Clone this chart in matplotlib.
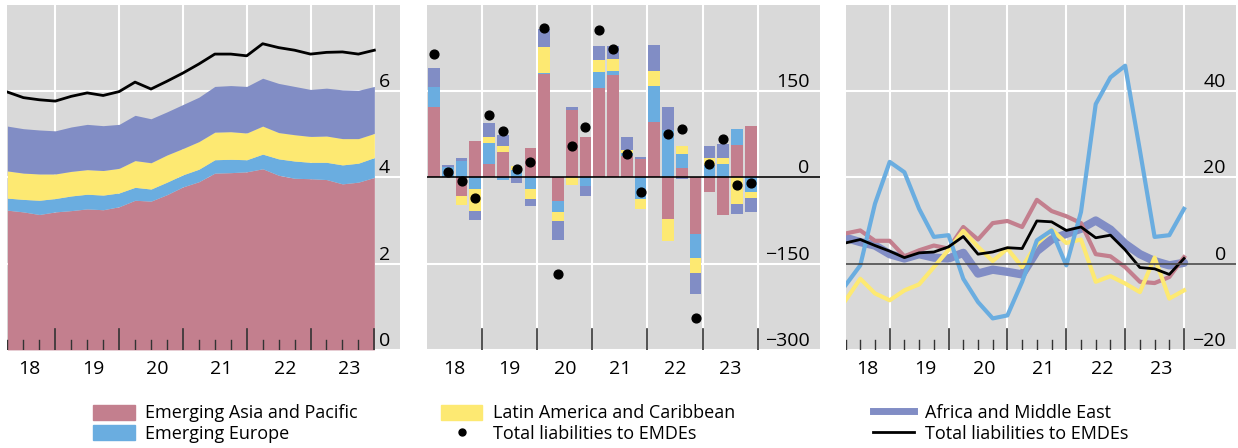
import numpy as np
import matplotlib.pyplot as plt
from matplotlib.patches import Patch
from matplotlib.lines import Line2D
from matplotlib.transforms import blended_transform_factory

plt.rcParams['font.family'] = ['Open Sans', 'DejaVu Sans']

# Panel 1: stacked levels (cumulative tops)
asia_top = [3.24, 3.20, 3.14, 3.20, 3.23, 3.27, 3.25, 3.32, 3.47, 3.45, 3.60, 3.78,
            3.90, 4.10, 4.11, 4.13, 4.20, 4.05, 3.98, 3.97, 3.95, 3.85, 3.89, 4.00]
europe_top = [3.52, 3.49, 3.47, 3.51, 3.57, 3.61, 3.59, 3.64, 3.77, 3.73, 3.89, 4.06,
              4.19, 4.41, 4.42, 4.41, 4.54, 4.43, 4.38, 4.35, 4.35, 4.29, 4.33, 4.46]
latam_top = [4.15, 4.10, 4.08, 4.08, 4.14, 4.18, 4.16, 4.21, 4.39, 4.34, 4.52, 4.67,
             4.83, 5.05, 5.06, 5.03, 5.19, 5.04, 4.99, 4.95, 4.96, 4.90, 4.90, 5.02]
africa_top = [5.19, 5.13, 5.10, 5.08, 5.17, 5.23, 5.20, 5.23, 5.44, 5.36, 5.52, 5.69,
              5.86, 6.11, 6.13, 6.11, 6.30, 6.18, 6.11, 6.04, 6.07, 6.03, 6.02, 6.11]
total_level = [5.98, 5.85, 5.80, 5.77, 5.88, 5.96, 5.90, 5.99, 6.21, 6.05, 6.23, 6.42,
               6.63, 6.86, 6.86, 6.82, 7.10, 7.01, 6.95, 6.86, 6.90, 6.91, 6.86, 6.95]

# Panel 2: quarterly changes by region
asia_chg = [123, 0, -32, 64, 24, 45, 0, 51, 179, -41, 118, 71,
            155, 178, 38, 32, 96, -72, 17, -98, -25, -65, 57, 90]
europe_chg = [34, 18, 28, -20, 36, -5, 13, -20, 2, -20, 0, -15,
              29, 7, 4, -38, 63, 82, 24, -43, 21, 24, 28, -26]
latam_chg = [0, 0, -16, -38, 11, 9, 7, -17, 45, -14, -14, 0,
             20, 21, 5, -17, 26, -39, 13, -26, 13, 10, -46, -10]
africa_chg = [33, 3, 5, -16, 23, 19, -9, -13, 32, -34, 5, -18,
              24, 22, 23, 4, 45, 41, -3, -36, 20, 24, -17, -24]
total_chg = [215, 10, -6, -35, 109, 80, 14, 26, 260, -168, 54, 88,
             257, 224, 41, -25, np.nan, 76, 84, -245, 24, 67, -13, -9]

# Panel 3: growth rates
asia_gr = [7.0, 7.7, 5.3, 5.3, 1.7, 3.1, 4.2, 3.5, 8.5, 5.6, 9.4, 9.9,
           8.5, 14.8, 12.2, 11.0, 9.4, 2.2, 1.7, -0.8, -4.2, -4.5, -3.1, 1.5]
europe_gr = [-5.0, -0.4, 13.9, 23.6, 21.2, 12.7, 6.2, 6.6, -3.5, -8.9, -12.7, -12.0,
             -4.2, 5.4, 7.7, -0.4, 12.0, 37.0, 43.2, 45.9, 26.3, 6.2, 6.6, 12.7]
latam_gr = [-8.5, -3.5, -6.9, -8.5, -6.2, -4.8, -0.8, 3.2, 7.6, 3.9, 0.6, 3.5,
            -0.8, 4.6, 7.9, 4.8, 5.6, -4.2, -2.9, -4.6, -6.6, 1.4, -8.1, -6.2]
africa_gr = [6.0, 5.0, 4.2, 2.2, 1.2, 2.2, 1.4, 1.2, 2.5, -2.3, -1.4, -1.9,
             -2.5, 2.9, 5.6, 6.9, 8.1, 10.0, 7.9, 4.6, 2.2, 0.6, -0.4, 0.2]
total_gr = [4.8, 5.6, 4.2, 2.9, 1.4, 2.5, 2.7, 3.9, 6.3, 2.2, 2.7, 3.7,
            3.5, 9.9, 9.7, 7.7, 8.5, 6.0, 6.6, 3.2, -0.9, -1.2, -2.5, 1.2]

year_labels = ['18', '19', '20', '21', '22', '23']

PINK, BLUE, YELLOW, PURPLE = '#c37f8e', '#6aade0', '#fde972', '#818dc5'
BG = '#d9d9d9'
FS = 13

fig = plt.figure(figsize=(12.38, 4.48), dpi=100)
ax1 = fig.add_axes([0.006, 0.219, 0.317, 0.77])
ax2 = fig.add_axes([0.345, 0.219, 0.317, 0.77])
ax3 = fig.add_axes([0.683, 0.219, 0.315, 0.77])


def style(ax, xlim, ylim, yticks, ylabels, bounds, quarters, lab_off, zero=None):
    ax.set_facecolor(BG)
    ax.set_xlim(*xlim)
    ax.set_ylim(*ylim)
    for s in ax.spines.values():
        s.set_visible(False)
    ax.set_xticks([])
    ax.set_yticks([])
    for b in bounds:
        ax.axvline(b, color='white', lw=1.5, zorder=0)
    for yv in yticks:
        ax.axhline(yv, color='white', lw=1.5, zorder=0)
    tr = blended_transform_factory(ax.transAxes, ax.transData)
    for yv, lab in zip(yticks, ylabels):
        ax.text(0.975, yv, lab, transform=tr, ha='right', va='bottom', fontsize=FS + 1)
    trx = blended_transform_factory(ax.transData, ax.transAxes)
    for b in bounds:
        ax.plot([b, b], [0, 0.06], color='#333333', lw=1.2, transform=trx, zorder=5)
    for q in quarters:
        ax.plot([q, q], [0, 0.03], color='#333333', lw=1.0, transform=trx, zorder=5)
    for i, lab in enumerate(year_labels):
        ax.text(bounds[i] - lab_off, -0.03, lab, transform=trx, ha='center', va='top',
                fontsize=FS + 1)
    if zero is not None:
        ax.axhline(0, color=zero, lw=1.2, zorder=4)


# Panel 1
x = np.arange(24)
bounds1 = [3, 7, 11, 15, 19, 23]
q1 = [i for i in x if i not in bounds1]
style(ax1, (0, 24.6), (0, 8), [0, 2, 4, 6], ['0', '2', '4', '6'], bounds1, q1, 1.6)
ax1.fill_between(x, 0, asia_top, color=PINK, lw=0, zorder=1)
ax1.fill_between(x, asia_top, europe_top, color=BLUE, lw=0, zorder=1)
ax1.fill_between(x, europe_top, latam_top, color=YELLOW, lw=0, zorder=1)
ax1.fill_between(x, latam_top, africa_top, color=PURPLE, lw=0, zorder=1)
ax1.plot(x, total_level, color='black', lw=2, zorder=3)

# Panel 2
bounds2 = [3.5, 7.5, 11.5, 15.5, 19.5, 23.5]
style(ax2, (-0.5, 28), (-300, 300), [-300, -150, 0, 150], ['\u2212300', '\u2212150', '0', '150'],
      bounds2, [], 2.0, zero='black')
pos_base = np.zeros(24)
neg_base = np.zeros(24)
for vals, col in [(asia_chg, PINK), (europe_chg, BLUE), (latam_chg, YELLOW), (africa_chg, PURPLE)]:
    v = np.array(vals, dtype=float)
    base = np.where(v >= 0, pos_base, neg_base)
    ax2.bar(x, v, bottom=base, width=0.85, color=col, lw=0, zorder=2)
    pos_base += np.where(v >= 0, v, 0)
    neg_base += np.where(v < 0, v, 0)
ax2.scatter(x, total_chg, color='black', s=40, zorder=6)

# Panel 3
style(ax3, (0, 26.5), (-20, 60), [-20, 0, 20, 40], ['\u221220', '0', '20', '40'],
      bounds1, q1, 1.55, zero='#444444')
ax3.plot(x, africa_gr, color=PURPLE, lw=6, zorder=2, solid_capstyle='round')
ax3.plot(x, asia_gr, color=PINK, lw=3, zorder=2)
ax3.plot(x, latam_gr, color=YELLOW, lw=3, zorder=2)
ax3.plot(x, europe_gr, color=BLUE, lw=3, zorder=2)
ax3.plot(x, total_gr, color='black', lw=2, zorder=3)

legend_cols = [
    (0.062, [Patch(color=PINK, label='Emerging Asia and Pacific'),
             Patch(color=BLUE, label='Emerging Europe')]),
    (0.343, [Patch(color=YELLOW, label='Latin America and Caribbean'),
             Line2D([], [], color='black', marker='o', ls='none', markersize=5,
                    label='Total liabilities to EMDEs')]),
    (0.692, [Line2D([], [], color=PURPLE, lw=5, label='Africa and Middle East'),
             Line2D([], [], color='black', lw=2, label='Total liabilities to EMDEs')]),
]
for xpos, hs in legend_cols:
    fig.legend(handles=hs, loc='lower left', bbox_to_anchor=(xpos, -0.025),
               frameon=False, fontsize=FS, handlelength=2.3, handleheight=0.9,
               labelspacing=0.15, handletextpad=0.6)

fig.savefig('out.png', dpi=100)
